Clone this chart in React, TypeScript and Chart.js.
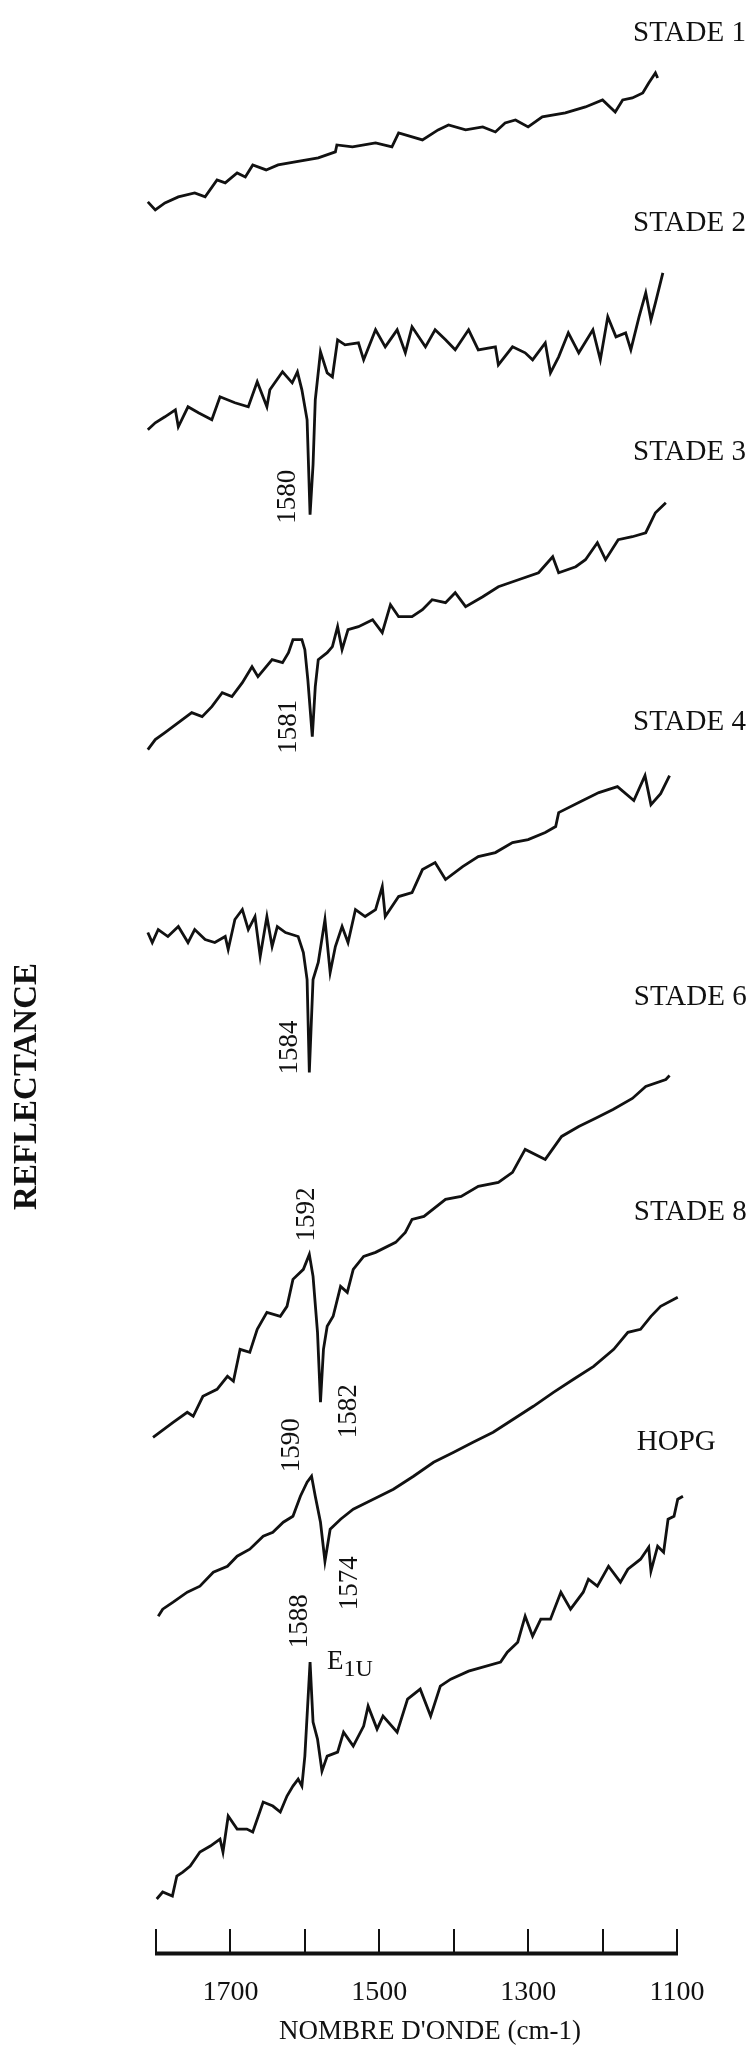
import React, { useEffect, useRef } from "react";
import { Chart, registerables } from "chart.js";

Chart.register(...registerables);

const INK = "#111111";
const SERIF = "'Liberation Serif', 'DejaVu Serif', serif";

// x axis (nombre d'onde, cm-1)
const waveTicks = [1800, 1700, 1600, 1500, 1400, 1300, 1200, 1100];
const labeledTicks = [1700, 1500, 1300, 1100];

// spectra: wavenumber (cm-1) and reflectance (arbitrary units, curves offset)
const stade1Wn = [1811, 1801, 1788, 1770, 1748, 1734, 1718, 1707, 1691, 1680, 1670, 1652, 1636, 1613, 1582, 1559, 1557, 1536, 1505, 1483, 1474, 1442, 1421, 1407, 1384, 1361, 1344, 1331, 1317, 1300, 1281, 1250, 1223, 1200, 1183, 1173, 1160, 1146, 1138, 1129, 1126];
const stade1R = [175.1, 174.3, 175.0, 175.6, 176.0, 175.6, 177.3, 177.0, 178.0, 177.6, 178.8, 178.3, 178.8, 179.1, 179.5, 180.1, 180.8, 180.6, 181.0, 180.6, 182.0, 181.3, 182.3, 182.8, 182.3, 182.6, 182.1, 183.0, 183.3, 182.6, 183.6, 184.0, 184.6, 185.3, 184.1, 185.3, 185.5, 186.0, 187.0, 188.0, 187.5];

const stade2Wn = [1811, 1801, 1788, 1774, 1770, 1757, 1743, 1725, 1714, 1694, 1676, 1664, 1651, 1647, 1630, 1617, 1610, 1604, 1597, 1593, 1589, 1586, 1579, 1570, 1563, 1556, 1546, 1528, 1521, 1505, 1492, 1476, 1465, 1456, 1438, 1425, 1411, 1398, 1380, 1367, 1344, 1340, 1321, 1304, 1294, 1277, 1270, 1259, 1246, 1232, 1213, 1203, 1193, 1182, 1169, 1162, 1151, 1142, 1135, 1129, 1119];
const stade2R = [152.3, 153.0, 153.6, 154.3, 152.6, 154.6, 154.0, 153.3, 155.6, 155.0, 154.6, 157.1, 154.6, 156.3, 158.1, 157.0, 158.1, 156.3, 153.3, 143.8, 148.8, 155.3, 160.1, 158.0, 157.6, 161.3, 160.8, 161.0, 159.3, 162.3, 160.6, 162.3, 160.0, 162.6, 160.6, 162.3, 161.3, 160.3, 162.3, 160.3, 160.6, 158.8, 160.6, 160.0, 159.3, 161.0, 158.0, 159.6, 162.0, 160.0, 162.3, 159.3, 163.6, 161.6, 162.0, 160.3, 163.6, 166.0, 163.3, 165.0, 168.0];

const stade3Wn = [1811, 1801, 1788, 1770, 1752, 1738, 1725, 1711, 1698, 1684, 1671, 1663, 1644, 1630, 1622, 1616, 1604, 1600, 1596, 1590, 1586, 1582, 1570, 1563, 1556, 1550, 1542, 1528, 1509, 1496, 1485, 1474, 1456, 1442, 1429, 1411, 1398, 1384, 1361, 1340, 1313, 1286, 1267, 1259, 1236, 1223, 1207, 1196, 1179, 1160, 1142, 1129, 1115];
const stade3R = [120.3, 121.3, 122.0, 123.0, 124.0, 123.6, 124.6, 126.0, 125.6, 127.0, 128.6, 127.6, 129.3, 129.0, 130.0, 131.3, 131.3, 130.3, 127.3, 121.6, 126.6, 129.3, 130.0, 130.6, 132.6, 130.3, 132.3, 132.6, 133.3, 132.0, 134.8, 133.6, 133.6, 134.3, 135.3, 135.0, 136.0, 134.6, 135.6, 136.6, 137.3, 138.0, 139.6, 138.0, 138.6, 139.3, 141.0, 139.3, 141.3, 141.6, 142.0, 144.0, 145.0];

const stade4Wn = [1811, 1805, 1797, 1784, 1770, 1757, 1748, 1734, 1721, 1707, 1703, 1694, 1684, 1676, 1667, 1660, 1651, 1644, 1637, 1626, 1609, 1602, 1597, 1594, 1589, 1582, 1573, 1566, 1559, 1550, 1542, 1532, 1519, 1505, 1496, 1492, 1474, 1456, 1442, 1425, 1411, 1388, 1367, 1344, 1321, 1300, 1277, 1263, 1259, 1232, 1205, 1180, 1158, 1143, 1135, 1122, 1110];
const stade4R = [102.0, 101.0, 102.3, 101.6, 102.6, 101.0, 102.3, 101.3, 101.0, 101.6, 100.3, 103.3, 104.3, 102.3, 103.6, 99.6, 103.6, 100.6, 102.6, 102.0, 101.6, 100.0, 97.3, 88.0, 97.3, 99.0, 103.3, 98.0, 100.6, 102.6, 101.0, 104.3, 103.6, 104.3, 106.6, 103.6, 105.6, 106.0, 108.3, 109.0, 107.3, 108.6, 109.6, 110.0, 111.0, 111.3, 112.0, 112.6, 114.0, 115.0, 116.0, 116.6, 115.2, 117.7, 114.8, 115.9, 117.7];

const stade6Wn = [1804, 1795, 1777, 1758, 1750, 1737, 1718, 1704, 1696, 1687, 1674, 1664, 1651, 1633, 1624, 1616, 1602, 1594, 1589, 1583, 1579, 1575, 1570, 1562, 1552, 1543, 1535, 1521, 1505, 1478, 1465, 1456, 1440, 1411, 1390, 1367, 1340, 1321, 1304, 1277, 1255, 1232, 1210, 1186, 1160, 1142, 1115, 1110];
const stade6R = [51.5, 52.0, 53.0, 54.0, 53.6, 55.6, 56.3, 57.6, 57.1, 60.3, 60.0, 62.3, 64.0, 63.6, 64.6, 67.3, 68.3, 69.8, 67.6, 62.0, 55.0, 60.3, 62.6, 63.6, 66.6, 66.0, 68.3, 69.6, 70.0, 71.0, 72.0, 73.3, 73.6, 75.3, 75.6, 76.6, 77.0, 78.0, 80.3, 79.3, 81.6, 82.6, 83.4, 84.3, 85.4, 86.6, 87.3, 87.7];

const stade8Wn = [1797, 1791, 1777, 1758, 1741, 1723, 1704, 1691, 1674, 1656, 1643, 1629, 1616, 1606, 1597, 1591, 1586, 1579, 1573, 1566, 1552, 1535, 1508, 1481, 1454, 1427, 1400, 1374, 1347, 1320, 1293, 1266, 1239, 1212, 1185, 1166, 1149, 1135, 1122, 1099];
const stade8R = [33.6, 34.3, 35.0, 36.0, 36.6, 38.0, 38.6, 39.6, 40.3, 41.6, 42.0, 43.0, 43.6, 45.6, 47.0, 47.6, 45.6, 43.0, 39.1, 42.3, 43.3, 44.3, 45.3, 46.3, 47.6, 49.0, 50.0, 51.0, 52.0, 53.3, 54.6, 56.0, 57.3, 58.6, 60.3, 62.0, 62.3, 63.6, 64.6, 65.5];

const hopgWn = [1799, 1791, 1778, 1772, 1764, 1754, 1741, 1727, 1714, 1710, 1703, 1691, 1678, 1670, 1656, 1643, 1633, 1624, 1616, 1609, 1604, 1600, 1593, 1589, 1583, 1577, 1570, 1556, 1548, 1535, 1521, 1515, 1503, 1495, 1476, 1462, 1445, 1431, 1418, 1404, 1380, 1337, 1328, 1314, 1304, 1294, 1283, 1270, 1256, 1243, 1226, 1219, 1207, 1192, 1176, 1166, 1149, 1138, 1135, 1126, 1118, 1112, 1104, 1099, 1092];
const hopgR = [5.3, 6.0, 5.6, 7.6, 8.0, 8.6, 10.0, 10.6, 11.3, 10.0, 13.6, 12.3, 12.3, 12.0, 15.0, 14.6, 14.0, 15.6, 16.6, 17.3, 16.6, 19.6, 29.0, 23.0, 21.3, 18.1, 19.6, 20.0, 22.0, 20.6, 22.6, 24.6, 22.3, 23.6, 22.0, 25.3, 26.3, 23.6, 26.6, 27.3, 28.1, 29.0, 30.0, 31.0, 33.6, 31.6, 33.3, 33.3, 36.0, 34.3, 36.0, 37.3, 36.6, 38.6, 37.0, 38.3, 39.3, 40.5, 38.1, 40.6, 40.0, 43.3, 43.6, 45.3, 45.6];

// curve labels (right side)
const seriesNames = ["STADE 1", "STADE 2", "STADE 3", "STADE 4", "STADE 6", "STADE 8", "HOPG"];
const seriesLabelWn = [1159, 1159, 1159, 1159, 1158, 1158, 1154];
const seriesLabelR = [192.0, 173.0, 150.0, 123.0, 95.5, 74.0, 51.0];

// band position annotations (rotated)
const peakTexts = ["1580", "1581", "1584", "1592", "1582", "1590", "1574", "1588"];
const peakTextWn = [1622.7, 1621.3, 1620.0, 1597.1, 1540.7, 1617.3, 1539.4, 1606.5];
const peakTextR = [145.6, 122.6, 90.5, 73.8, 54.1, 50.7, 36.9, 33.1];

// E1U mode label
const modeLabelWn = 1570.3;
const modeLabelR = 28.3;

const allWn = [stade1Wn, stade2Wn, stade3Wn, stade4Wn, stade6Wn, stade8Wn, hopgWn];
const allR = [stade1R, stade2R, stade3R, stade4R, stade6R, stade8R, hopgR];

const decorPlugin = {
  id: "decor",
  afterDraw(chart: any) {
    const { ctx, chartArea, scales } = chart;
    const x = scales.x;
    const y = scales.y;
    ctx.save();
    ctx.strokeStyle = INK;
    ctx.fillStyle = INK;
    // axis baseline
    ctx.lineWidth = 4;
    ctx.beginPath();
    ctx.moveTo(x.getPixelForValue(1800) - 1, chartArea.bottom + 1.5);
    ctx.lineTo(x.getPixelForValue(1100) + 1, chartArea.bottom + 1.5);
    ctx.stroke();
    // inward ticks
    ctx.lineWidth = 2;
    ctx.beginPath();
    for (const t of x.ticks) {
      const px = Math.round(x.getPixelForValue(t.value));
      ctx.moveTo(px, chartArea.bottom);
      ctx.lineTo(px, chartArea.bottom - 23);
    }
    ctx.stroke();

    // curve labels
    ctx.font = `29px ${SERIF}`;
    ctx.textAlign = "left";
    ctx.textBaseline = "middle";
    seriesNames.forEach((name, i) => {
      ctx.fillText(name, x.getPixelForValue(seriesLabelWn[i]), y.getPixelForValue(seriesLabelR[i]));
    });

    // rotated band positions
    ctx.font = `27px ${SERIF}`;
    ctx.textAlign = "center";
    peakTexts.forEach((t, i) => {
      ctx.save();
      ctx.translate(x.getPixelForValue(peakTextWn[i]), y.getPixelForValue(peakTextR[i]));
      ctx.rotate(-Math.PI / 2);
      ctx.fillText(t, 0, 0);
      ctx.restore();
    });

    // E1U
    const ex = x.getPixelForValue(modeLabelWn);
    const ey = y.getPixelForValue(modeLabelR);
    ctx.textAlign = "left";
    ctx.textBaseline = "alphabetic";
    ctx.font = `27px ${SERIF}`;
    ctx.fillText("E", ex, ey);
    const ew = ctx.measureText("E").width;
    ctx.font = `24px ${SERIF}`;
    ctx.fillText("1U", ex + ew, ey + 7);

    // y title
    ctx.save();
    ctx.font = `bold 33px ${SERIF}`;
    ctx.textAlign = "center";
    ctx.textBaseline = "middle";
    ctx.translate(chartArea.left - 129, y.getPixelForValue(86.6));
    ctx.rotate(-Math.PI / 2);
    ctx.fillText("REFLECTANCE", 0, 0);
    ctx.restore();

    ctx.restore();
  },
};

export default function App() {
  const ref = useRef<HTMLCanvasElement | null>(null);

  useEffect(() => {
    if (!ref.current) return;
    const datasets = allWn.map((wn, i) => ({
      label: seriesNames[i],
      data: wn.map((w, j) => ({ x: w, y: allR[i][j] })),
      borderColor: INK,
      borderWidth: 2.8,
      borderJoinStyle: "miter" as const,
      pointRadius: 0,
      fill: false,
      tension: 0,
      clip: false as any,
    }));
    const chart = new Chart(ref.current, {
      type: "line",
      data: { datasets },
      options: {
        responsive: false,
        animation: false,
        devicePixelRatio: 1,
        layout: { padding: { left: 156, right: 77, top: 13, bottom: 4 } },
        plugins: { legend: { display: false }, tooltip: { enabled: false } },
        scales: {
          x: {
            type: "linear",
            min: 1100,
            max: 1800,
            reverse: true,
            grid: { display: false, drawTicks: false },
            border: { display: false },
            afterBuildTicks: (s: any) => {
              s.ticks = waveTicks.map((v) => ({ value: v }));
            },
            ticks: {
              autoSkip: false,
              maxRotation: 0,
              padding: 24,
              color: INK,
              font: { family: SERIF, size: 28 },
              callback: (v: any) => (labeledTicks.includes(Number(v)) ? String(v) : ""),
            },
            title: {
              display: true,
              text: "\u2003NOMBRE D'ONDE (cm-1)",
              color: INK,
              font: { family: SERIF, size: 27 },
              padding: { top: -18, bottom: 0 },
            },
          },
          y: { type: "linear", min: 0, max: 194, display: false },
        },
      },
      plugins: [decorPlugin],
    });
    return () => chart.destroy();
  }, []);

  return (
    <div style={{ position: "absolute", left: 0, top: 0, width: 754, height: 2052, background: "#fff" }}>
      <canvas ref={ref} width={754} height={2052} style={{ display: "block", width: 754, height: 2052 }} />
    </div>
  );
}
